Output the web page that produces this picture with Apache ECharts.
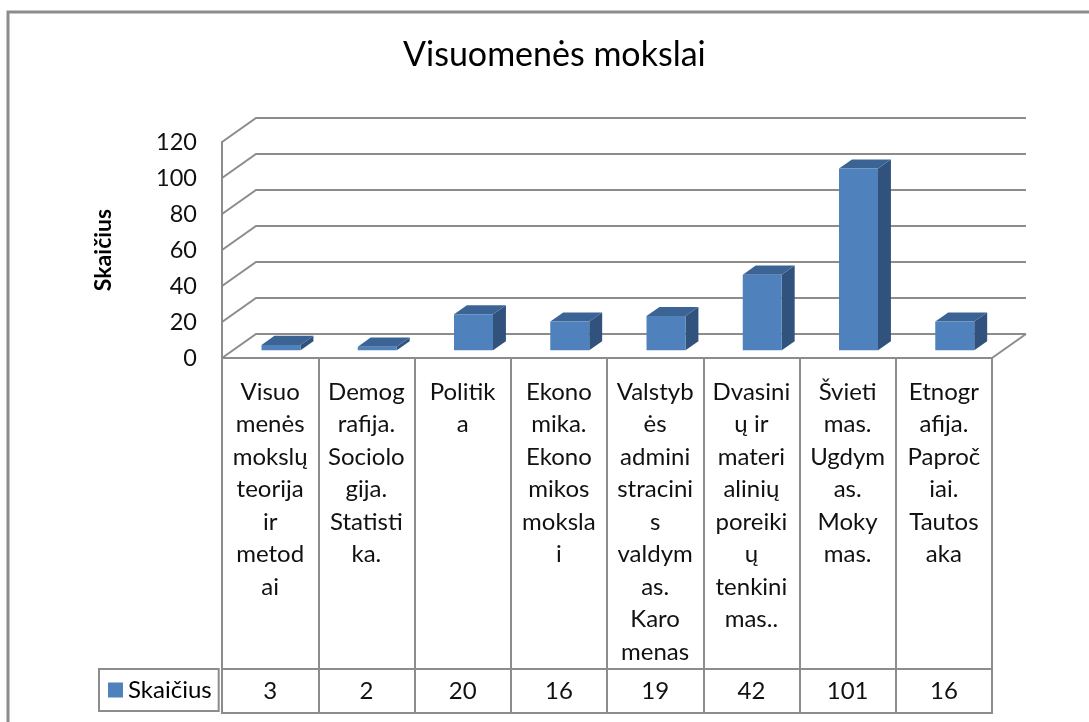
<!DOCTYPE html>
<html>
<head>
<meta charset="utf-8">
<script src="https://cdn.jsdelivr.net/npm/echarts@6/dist/echarts.min.js"></script>
<style>
  html, body { margin: 0; padding: 0; background: #fff; }
  #chart { width: 1089px; height: 722px; }
</style>
</head>
<body>
<div id="chart"></div>
<script>
// category names, wrapped the way the data table shows them
const categories = [
  'Visuo\nmenės\nmokslų\nteorija\nir\nmetod\nai',
  'Demog\nrafija.\nSociolo\ngija.\nStatisti\nka.',
  'Politik\na',
  'Ekono\nmika.\nEkono\nmikos\nmoksla\ni',
  'Valstyb\nės\nadmini\nstracini\ns\nvaldym\nas.\nKaro\nmenas',
  'Dvasini\nų ir\nmateri\nalinių\nporeiki\nų\ntenkini\nmas..',
  'Švieti\nmas.\nUgdym\nas.\nMoky\nmas.',
  'Etnogr\nafija.\nPaproč\niai.\nTautos\naka'
];
const values = [3, 2, 20, 16, 19, 42, 101, 16];
const yTicks = [0, 20, 40, 60, 80, 100, 120];
const seriesName = 'Skaičius';

const FONT = 'Lato, "Noto Sans", sans-serif';
const LINE = '#8c8c8c';
// 3d depth offset of the back wall
const DX = 34, DY = 24;
// bar depth placement (fractions of the full depth)
const F1 = 0.32, F2 = 0.70;

const chart = echarts.init(document.getElementById('chart'));

function renderWall(params, api) {
  const cs = params.coordSys;
  const y = api.coord([0, api.value(1)])[1];
  const x0 = cs.x, x1 = cs.x + cs.width;
  const children = [{
    type: 'polyline',
    shape: { points: [[x0, y], [x0 + DX, y - DY], [x1 + DX, y - DY]] },
    style: { stroke: LINE, lineWidth: 2, fill: null }
  }];
  if (api.value(1) === 0) {
    children.push({
      type: 'line',
      shape: { x1: x1, y1: y, x2: x1 + DX, y2: y - DY },
      style: { stroke: LINE, lineWidth: 2 }
    });
  }
  return { type: 'group', children: children };
}

function renderBar(params, api) {
  const idx = api.value(0);
  const top = api.coord([idx, api.value(1)]);
  const base = api.coord([idx, 0]);
  const band = api.size([1, 0])[0];
  const w = band * 0.405;
  const xa = top[0] - w / 2 + F1 * DX;
  const xb = xa + w;
  const yt = top[1] - F1 * DY;
  const yb = base[1] - F1 * DY;
  const ddx = (F2 - F1) * DX, ddy = (F2 - F1) * DY;
  return {
    type: 'group',
    children: [
      {
        type: 'polygon',
        shape: { points: [[xb, yt], [xb + ddx, yt - ddy], [xb + ddx, yb - ddy], [xb, yb]] },
        style: { fill: '#30527d' }
      },
      {
        type: 'polygon',
        shape: { points: [[xa, yt], [xb, yt], [xb + ddx, yt - ddy], [xa + ddx, yt - ddy]] },
        style: { fill: '#3b6495' }
      },
      {
        type: 'rect',
        shape: { x: xa, y: yt, width: w, height: yb - yt },
        style: { fill: '#4f81bd' }
      }
    ]
  };
}

chart.setOption({
  animation: false,
  textStyle: { fontFamily: FONT },
  title: {
    text: 'Visuomenės mokslai',
    left: 398,
    top: 33,
    textStyle: { fontFamily: FONT, fontSize: 34, fontWeight: 'normal', color: '#000' }
  },
  graphic: [{
    type: 'rect',
    shape: { x: 8, y: 12, width: 1100, height: 730 },
    style: { fill: null, stroke: LINE, lineWidth: 3 },
    silent: true
  }],
  legend: {
    data: [seriesName],
    left: 99,
    top: 669,
    orient: 'horizontal',
    icon: 'rect',
    itemWidth: 15,
    itemHeight: 15,
    padding: [9, 7, 9, 9],
    borderColor: LINE,
    borderWidth: 2,
    textStyle: { fontFamily: FONT, fontSize: 24, color: '#000' }
  },
  grid: [
    { left: 222, right: 97, top: 142, bottom: 364 },
    { left: 222, right: 97, top: 358, bottom: 53, show: true, borderColor: LINE, borderWidth: 2 },
    { left: 222, right: 97, top: 669, bottom: 9, show: true, borderColor: LINE, borderWidth: 2 }
  ],
  xAxis: [
    { type: 'category', gridIndex: 0, data: categories, show: false },
    {
      type: 'category', gridIndex: 1, data: categories, position: 'top',
      axisLine: { show: false }, axisTick: { show: false },
      splitLine: { show: true, interval: 0, lineStyle: { color: LINE, width: 2 } },
      axisLabel: {
        inside: true, interval: 0, margin: 18, verticalAlign: 'top',
        fontFamily: FONT, fontSize: 24, lineHeight: 32.5, color: '#111', align: 'center'
      }
    },
    {
      type: 'category', gridIndex: 2, data: values.map(String), position: 'bottom',
      axisLine: { show: false }, axisTick: { show: false },
      splitLine: { show: true, interval: 0, lineStyle: { color: LINE, width: 2 } },
      axisLabel: {
        inside: true, interval: 0, margin: 22, verticalAlign: 'middle',
        fontFamily: FONT, fontSize: 24, color: '#111'
      }
    }
  ],
  yAxis: [
    {
      type: 'value', gridIndex: 0, min: 0, max: 120, interval: 20,
      name: 'Skaičius', nameLocation: 'middle', nameRotate: 90, nameGap: 107,
      nameTextStyle: { fontFamily: FONT, fontSize: 23, fontWeight: 'bold', color: '#000' },
      axisLine: { show: true, lineStyle: { color: LINE, width: 2 } },
      axisTick: { show: false },
      splitLine: { show: false },
      axisLabel: { margin: 25, fontFamily: FONT, fontSize: 23.5, color: '#111' }
    },
    { type: 'value', gridIndex: 1, show: false },
    { type: 'value', gridIndex: 2, show: false }
  ],
  series: [
    {
      name: 'walls',
      type: 'custom',
      xAxisIndex: 0, yAxisIndex: 0,
      renderItem: renderWall,
      data: yTicks.map(v => [0, v]),
      clip: false,
      silent: true,
      z: 1
    },
    {
      name: seriesName,
      type: 'custom',
      xAxisIndex: 0, yAxisIndex: 0,
      renderItem: renderBar,
      itemStyle: { color: '#4f81bd' },
      data: values.map((v, i) => [i, v]),
      clip: false,
      z: 3
    }
  ]
});
</script>
</body>
</html>
